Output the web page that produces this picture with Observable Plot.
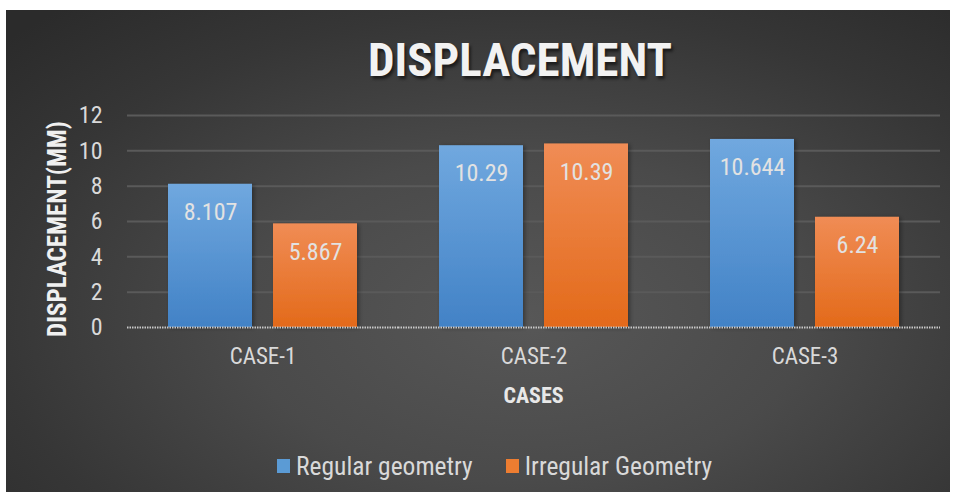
<!DOCTYPE html>
<html><head><meta charset="utf-8">
<script src="https://cdn.jsdelivr.net/npm/d3@7"></script>
<script src="https://cdn.jsdelivr.net/npm/@observablehq/plot@0.6"></script>
<style>
body{margin:0;background:#fff;}
#wrap{position:relative;width:956px;height:500px;background:#fff;overflow:hidden;}
#chart{position:absolute;left:6px;top:10px;width:944px;height:482px;
  background:radial-gradient(ellipse 75% 85% at 55% 64%, #575757 0%, #4a4a4a 40%, #363636 75%, #2b2b2b 100%);
  font-family:Roboto,sans-serif;font-stretch:75%;}
#title{position:absolute;left:514px;top:24px;transform:translateX(-50%);white-space:nowrap;
  font-size:47px;line-height:52px;font-weight:bold;color:#f2f2f2;
  text-shadow:2px 3px 3px rgba(0,0,0,0.55);}
#plot{position:absolute;left:0;top:90px;}
#plot svg, #plot svg text{font-family:Roboto,sans-serif;font-stretch:75%;}
#legend{position:absolute;left:271px;top:441px;height:30px;display:flex;align-items:center;
  font-size:25.5px;color:#d9d9d9;white-space:nowrap;}
#legend .sw{display:inline-block;width:13px;height:14px;margin-right:6px;}
#legend .item{display:flex;align-items:center;margin-right:33px;}
</style>
</head><body>
<div id="wrap"><div id="chart">
  <div id="title">DISPLACEMENT</div>
  <div id="plot"></div>
  <div id="legend"></div>
</div></div>
<script>
const cases = ["CASE-1", "CASE-2", "CASE-3"];
const seriesNames = ["Regular geometry", "Irregular Geometry"];
const regular = [8.107, 10.29, 10.644];
const irregular = [5.867, 10.39, 6.24];
const yTicks = [0, 2, 4, 6, 8, 10, 12];
const seriesColors = ["#5b9bd5", "#ed7d31"];

const rows = cases.flatMap((c, i) => [
  {case: c, series: seriesNames[0], value: regular[i]},
  {case: c, series: seriesNames[1], value: irregular[i]}
]);
const regRows = rows.filter(d => d.series === seriesNames[0]);
const irrRows = rows.filter(d => d.series === seriesNames[1]);

const plot = Plot.plot({
  width: 944,
  height: 320,
  marginLeft: 121,
  marginRight: 10,
  marginTop: 15,
  marginBottom: 93,
  style: {background: "transparent", color: "#d9d9d9", overflow: "visible"},
  fx: {domain: cases, padding: 0, label: null},
  x: {domain: seriesNames, paddingInner: 0.2, paddingOuter: 0.39, axis: null},
  y: {domain: [0, 12], ticks: yTicks, label: null},
  marks: [
    Plot.gridY(yTicks.filter(t => t > 0), {stroke: "#5a5a5a", strokeOpacity: 1, strokeWidth: 2}),
    Plot.barY(regRows, {fx: "case", x: "series", y: "value", fill: "url(#gradBlue)"}),
    Plot.barY(irrRows, {fx: "case", x: "series", y: "value", fill: "url(#gradOrange)"}),
    Plot.ruleY([0], {stroke: "#c8c8c8", strokeWidth: 2, strokeDasharray: "1.5,1"}),
    Plot.text(rows, {fx: "case", x: "series", y: "value", text: d => String(d.value), dy: 28,
      fill: "#e2e2e2", fontSize: 24}),
    Plot.axisY(yTicks, {tickSize: 0, tickPadding: 25, fontSize: 24, fill: "#d9d9d9", label: null}),
    Plot.axisFx({anchor: "bottom", tickSize: 0, tickPadding: 20, fontSize: 23, fill: "#d9d9d9", label: null})
  ]
});

const svg = d3.select(plot);
const defs = svg.insert("defs", ":first-child");
const gb = defs.append("linearGradient").attr("id", "gradBlue").attr("x1", 0).attr("y1", 0).attr("x2", 0).attr("y2", 1);
gb.append("stop").attr("offset", "0%").attr("stop-color", "#70a8df");
gb.append("stop").attr("offset", "100%").attr("stop-color", "#4282c6");
const go = defs.append("linearGradient").attr("id", "gradOrange").attr("x1", 0).attr("y1", 0).attr("x2", 0).attr("y2", 1);
go.append("stop").attr("offset", "0%").attr("stop-color", "#f08c55");
go.append("stop").attr("offset", "100%").attr("stop-color", "#e36a1a");
const sh = defs.append("filter").attr("id", "barShadow").attr("x", "-10%").attr("y", "-10%").attr("width", "130%").attr("height", "130%");
sh.append("feDropShadow").attr("dx", 2).attr("dy", 1).attr("stdDeviation", 2).attr("flood-color", "#000").attr("flood-opacity", 0.35);
svg.selectAll("g[aria-label='bar'] rect").attr("filter", "url(#barShadow)");

// axis titles as real text inside the SVG
svg.append("text")
  .attr("transform", `translate(51, 129) rotate(-90)`)
  .attr("text-anchor", "middle").attr("dominant-baseline", "central")
  .attr("font-size", 25).attr("font-weight", "bold").attr("fill", "#f0f0f0")
  .text("DISPLACEMENT(MM)");
svg.append("text")
  .attr("x", 121 + (944 - 121 - 10) / 2).attr("y", 227 + 68)
  .attr("text-anchor", "middle").attr("dominant-baseline", "central")
  .attr("font-size", 22).attr("font-weight", "bold").attr("fill", "#e8e8e8")
  .text("CASES");

document.getElementById("plot").appendChild(plot);

const legend = d3.select("#legend");
seriesNames.forEach((s, i) => {
  const it = legend.append("div").attr("class", "item");
  it.append("span").attr("class", "sw").style("background", seriesColors[i]);
  it.append("span").text(s);
});
</script>
</body></html>
